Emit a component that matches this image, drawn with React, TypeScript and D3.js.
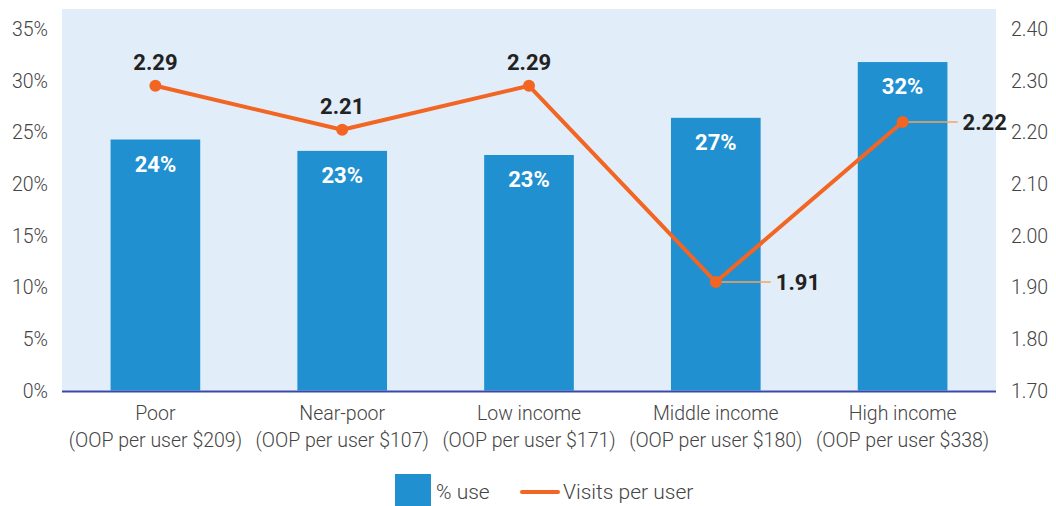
import React from "react";
import * as d3 from "d3";

const categories = ["Poor", "Near-poor", "Low income", "Middle income", "High income"];
const subLabels = ["(OOP per user $209)", "(OOP per user $107)", "(OOP per user $171)", "(OOP per user $180)", "(OOP per user $338)"];
const pctUse = [24.3, 23.2, 22.8, 26.4, 31.8];
const pctLabels = ["24%", "23%", "23%", "27%", "32%"];
const visits = [2.29, 2.205, 2.29, 1.91, 2.22];
const visitLabels = ["2.29", "2.21", "2.29", "1.91", "2.22"];
const leftTicks = [0, 5, 10, 15, 20, 25, 30, 35];
const rightTicks = [1.7, 1.8, 1.9, 2.0, 2.1, 2.2, 2.3, 2.4];
const sideLabel = [false, false, false, true, true];

const W = 1056, H = 506;
const plotL = 62, plotR = 996, plotTop = 9, y0 = 390.5, yTop = 29;
const font = "Roboto, 'Noto Sans', sans-serif";
const barColor = "#2190D0";
const lineColor = "#F26522";
const fs = 19.5;

export default function App() {
  const x = d3.scaleBand<string>().domain(categories).range([plotL, plotR]).paddingInner(0.52).paddingOuter(0.26);
  const yL = d3.scaleLinear().domain([0, 35]).range([y0, yTop]);
  const yR = d3.scaleLinear().domain([1.7, 2.4]).range([y0, yTop]);
  const cx = (c: string) => (x(c) as number) + x.bandwidth() / 2;
  const line = d3.line<number>().x((_, i) => cx(categories[i])).y((d) => yR(d));

  return (
    <svg width={W} height={H} style={{ position: "absolute", left: 0, top: 0 }} fontFamily={font}>
      <rect x={plotL} y={plotTop} width={plotR - plotL} height={y0 - plotTop} fill="#E1EEF9" />
      {categories.map((c, i) => (
        <g key={c}>
          <rect x={x(c)} y={yL(pctUse[i])} width={x.bandwidth()} height={y0 - yL(pctUse[i])} fill={barColor} />
          <text x={cx(c)} y={yL(pctUse[i]) + 32} textAnchor="middle" fill="#fff" fontSize={22} fontWeight={700}>{pctLabels[i]}</text>
          <text x={cx(c)} y={420} textAnchor="middle" fill="#444" fontSize={fs} fontWeight={300}>{c}</text>
          <text x={cx(c)} y={447} textAnchor="middle" fill="#444" fontSize={fs} fontWeight={300}>{subLabels[i]}</text>
        </g>
      ))}
      <line x1={plotL} x2={plotR} y1={y0 + 1} y2={y0 + 1} stroke="#3949AB" strokeWidth={2} />
      {leftTicks.map((t) => (
        <text key={t} x={48} y={yL(t) + 7} textAnchor="end" fill="#444" fontSize={fs} fontWeight={300}>{t}%</text>
      ))}
      {rightTicks.map((t) => (
        <text key={t} x={1011} y={yR(t) + 7} textAnchor="start" fill="#444" fontSize={fs} fontWeight={300}>{t.toFixed(2)}</text>
      ))}
      <path d={line(visits) || ""} fill="none" stroke={lineColor} strokeWidth={4} strokeLinejoin="round" />
      {visits.map((v, i) => {
        const px = cx(categories[i]);
        const py = yR(v);
        return (
          <g key={i}>
            {sideLabel[i] && <line x1={px} x2={px + 55} y1={py} y2={py} stroke="#F7A35C" strokeWidth={1.5} />}
            <circle cx={px} cy={py} r={6} fill={lineColor} />
            {sideLabel[i] ? (
              <text x={px + 60} y={py + 8} fill="#222" fontSize={22} fontWeight={700}>{visitLabels[i]}</text>
            ) : (
              <text x={px} y={py - 16} textAnchor="middle" fill="#222" fontSize={22} fontWeight={700}>{visitLabels[i]}</text>
            )}
          </g>
        );
      })}
      <rect x={395} y={474} width={36} height={32} fill={barColor} />
      <text x={436} y={499} fill="#444" fontSize={21} fontWeight={300}>% use</text>
      <line x1={522} x2={558} y1={492} y2={492} stroke={lineColor} strokeWidth={4} strokeLinecap="round" />
      <text x={563} y={499} fill="#444" fontSize={21} fontWeight={300}>Visits per user</text>
    </svg>
  );
}
